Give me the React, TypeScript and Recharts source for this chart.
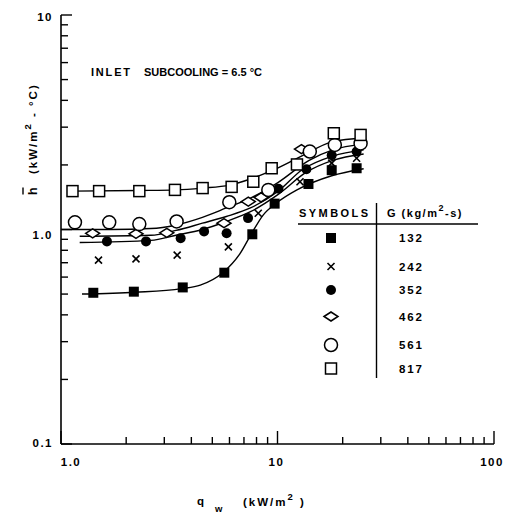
import { ComposedChart, Line, Scatter, XAxis, YAxis } from 'recharts'

const FONT = '"Liberation Sans", Arial, Helvetica, sans-serif'

// mass flux values shown in the legend (kg/m2-s)
const fluxes = ['132', '242', '352', '462', '561', '817']

// measured points: q_w (kW/m2) and mean h (kW/m2-C)
const q132 = [1.41, 2.17, 3.65, 5.68, 7.65, 9.7, 13.9, 17.8, 23.2]
const h132 = [0.507, 0.513, 0.537, 0.629, 0.95, 1.32, 1.63, 1.89, 1.93]

const q242 = [1.49, 2.22, 3.44, 5.93, 8.15, 12.7, 17.8, 23.2]
const h242 = [0.72, 0.73, 0.76, 0.83, 1.19, 1.67, 2.04, 2.15]

const q352 = [1.63, 2.47, 3.57, 4.58, 5.82, 7.31, 10.1, 13.6, 17.8, 23.2]
const h352 = [0.88, 0.88, 0.91, 0.98, 0.96, 1.13, 1.55, 1.91, 2.22, 2.31]

const q462 = [1.4, 2.22, 3.08, 5.66, 7.33, 8.4, 12.9]
const h462 = [0.96, 0.955, 0.965, 1.07, 1.35, 1.41, 2.37]

const q561 = [1.16, 1.67, 2.3, 3.42, 5.99, 9.07, 14.1, 18.4, 24.2]
const h561 = [1.08, 1.08, 1.06, 1.09, 1.34, 1.53, 2.31, 2.48, 2.52]

const q817 = [1.13, 1.5, 2.3, 3.36, 4.51, 6.14, 7.73, 9.4, 12.3, 18.2, 24.2]
const h817 = [1.51, 1.51, 1.51, 1.53, 1.56, 1.58, 1.67, 1.93, 2.01, 2.81, 2.76]

// hand-drawn fit curves
const fitQ132 = [1.25, 2.2, 3.6, 4.4, 5.6, 6.7, 7.6, 8.6, 9.9, 12.3, 17.8, 25]
const fitH132 = [0.5, 0.51, 0.53, 0.55, 0.63, 0.77, 0.96, 1.17, 1.33, 1.53, 1.78, 1.92]

const fitQ352 = [1.22, 2.6, 3.4, 4.5, 5.8, 7.5, 10, 13.6, 18, 25]
const fitH352 = [0.87, 0.89, 0.94, 1.0, 1.09, 1.21, 1.45, 1.85, 2.1, 2.25]

const fitQ462 = [1.22, 2.6, 3.4, 4.5, 5.8, 7.5, 10, 13, 18, 25]
const fitH462 = [0.93, 0.94, 0.99, 1.07, 1.15, 1.26, 1.5, 1.9, 2.2, 2.35]

const fitQ561 = [1.0, 1.7, 2.6, 3.4, 4.5, 5.8, 7.5, 10, 14, 18, 25]
const fitH561 = [1.0, 1.0, 1.01, 1.05, 1.14, 1.26, 1.4, 1.65, 2.1, 2.35, 2.5]

const fitQ817 = [1.12, 2.3, 3.4, 4.5, 6.0, 7.5, 9.4, 12.7, 18, 25]
const fitH817 = [1.51, 1.52, 1.53, 1.56, 1.61, 1.72, 1.88, 2.18, 2.57, 2.67]

const xTicks = [1, 2, 3, 4, 5, 6, 7, 8, 9, 10, 20, 30, 40, 50, 60, 70, 80, 90, 100]
const xTickLabels: Record<number, string> = { 1: '1.0', 10: '10', 100: '100' }
const yTicks = [0.1, 0.2, 0.3, 0.4, 0.5, 0.6, 0.7, 0.8, 0.9, 1, 2, 3, 4, 5, 6, 7, 8, 9, 10]
const yTickLabels: Record<number, string> = { 0.1: '0.1', 1: '1.0', 10: '10' }

const pts = (q: number[], h: number[]) => q.map((v, i) => ({ q: v, h: h[i] }))

type Mark = (cx: number, cy: number) => JSX.Element

const marks: Record<string, Mark> = {
  '132': (cx, cy) => <rect x={cx - 5} y={cy - 5} width={10} height={10} fill="#000" />,
  '242': (cx, cy) => (
    <g stroke="#000" strokeWidth={1.6}>
      <line x1={cx - 3.5} y1={cy - 3.5} x2={cx + 3.5} y2={cy + 3.5} />
      <line x1={cx - 3.5} y1={cy + 3.5} x2={cx + 3.5} y2={cy - 3.5} />
    </g>
  ),
  '352': (cx, cy) => <circle cx={cx} cy={cy} r={5} fill="#000" />,
  '462': (cx, cy) => (
    <polygon
      points={`${cx - 7},${cy} ${cx},${cy - 4.5} ${cx + 7},${cy} ${cx},${cy + 4.5}`}
      fill="#fff"
      stroke="#000"
      strokeWidth={1.5}
    />
  ),
  '561': (cx, cy) => <circle cx={cx} cy={cy} r={6.5} fill="#fff" stroke="#000" strokeWidth={1.5} />,
  '817': (cx, cy) => (
    <rect x={cx - 5.5} y={cy - 5.5} width={11} height={11} fill="#fff" stroke="#000" strokeWidth={1.5} />
  ),
}

const points: Record<string, { q: number; h: number }[]> = {
  '817': pts(q817, h817),
  '561': pts(q561, h561),
  '462': pts(q462, h462),
  '352': pts(q352, h352),
  '242': pts(q242, h242),
  '132': pts(q132, h132),
}

const fits: Record<string, { q: number; h: number }[]> = {
  '817': pts(fitQ817, fitH817),
  '561': pts(fitQ561, fitH561),
  '462': pts(fitQ462, fitH462),
  '352': pts(fitQ352, fitH352),
  '132': pts(fitQ132, fitH132),
}

const XTick = (props: any) => {
  const { x, y, payload } = props
  const label = xTickLabels[payload.value]
  const dx = payload.value === 1 ? 10 : payload.value === 100 ? -2 : -1
  return (
    <g>
      <line x1={x} x2={x} y1={y} y2={y - (label ? 13 : 7)} stroke="#000" strokeWidth={1.4} />
      {label && (
        <text x={x + dx} y={y + 22} textAnchor="middle" fontFamily={FONT} fontSize={11.5} fontWeight="bold" letterSpacing={1.5} fill="#000">
          {label}
        </text>
      )}
    </g>
  )
}

const YTick = (props: any) => {
  const { x, y, payload } = props
  const label = yTickLabels[payload.value]
  const dy = payload.value === 10 ? 6 : payload.value === 1 ? 9 : 3
  return (
    <g>
      <line x1={x} x2={x + (label ? 11 : 7)} y1={y} y2={y} stroke="#000" strokeWidth={1.4} />
      {label && (
        <text x={x - 8} y={y + dy} textAnchor="end" fontFamily={FONT} fontSize={11.5} fontWeight="bold" letterSpacing={1.5} fill="#000">
          {label}
        </text>
      )}
    </g>
  )
}

const txt = { fontFamily: FONT, fontWeight: 'bold' as const, fill: '#000' }

export default function App() {
  const legendY = [238, 266.5, 290, 316.5, 345, 368.5]
  return (
    <div style={{ position: 'absolute', left: 0, top: 0, width: 507, height: 513, background: '#fff', fontFamily: FONT }}>
      <ComposedChart width={507} height={513} margin={{ top: 15, right: 13, bottom: 0, left: 0 }}>
        <XAxis
          type="number"
          dataKey="q"
          scale="log"
          domain={[1, 100]}
          ticks={xTicks}
          interval={0}
          height={69}
          tickSize={0}
          tickMargin={0}
          tickLine={false}
          axisLine={{ stroke: '#000', strokeWidth: 1.6 }}
          tick={<XTick />}
          allowDataOverflow
        />
        <YAxis
          type="number"
          dataKey="h"
          scale="log"
          domain={[0.1, 10]}
          ticks={yTicks}
          interval={0}
          width={61}
          tickSize={0}
          tickMargin={0}
          tickLine={false}
          axisLine={{ stroke: '#000', strokeWidth: 1.6 }}
          tick={<YTick />}
          allowDataOverflow
        />
        {Object.keys(fits).map((g) => (
          <Line
            key={`fit-${g}`}
            data={fits[g]}
            dataKey="h"
            type="monotone"
            stroke="#000"
            strokeWidth={1.4}
            dot={false}
            activeDot={false}
            isAnimationActive={false}
          />
        ))}
        {Object.keys(points).map((g) => (
          <Scatter
            key={`pts-${g}`}
            data={points[g]}
            dataKey="h"
            shape={(p: any) => marks[g](p.cx, p.cy)}
            isAnimationActive={false}
          />
        ))}
      </ComposedChart>
      <svg width={507} height={513} style={{ position: 'absolute', left: 0, top: 0, pointerEvents: 'none' }}>
        <text x={91} y={76} fontSize={11} textLength={39} lengthAdjust="spacing" {...txt}>INLET</text>
        <text x={144} y={76} fontSize={11} textLength={118} lengthAdjust="spacing" {...txt}>SUBCOOLING = 6.5 °C</text>

        <g transform="translate(37,195) rotate(-90)">
          <text x={0} y={0} fontSize={12.5} {...txt}>h</text>
          <line x1={0.5} x2={7.5} y1={-14} y2={-14} stroke="#000" strokeWidth={1.4} />
          <text x={21} y={0} fontSize={11.5} letterSpacing={2} {...txt}>
            <tspan>(kW/m</tspan>
            <tspan dy={-6} fontSize={9.5}>2</tspan>
            <tspan dy={6}> - °C)</tspan>
          </text>
        </g>

        <text x={197} y={505} fontSize={11.5} {...txt}>q</text>
        <text x={215} y={512} fontSize={9.5} {...txt}>w</text>
        <text x={243} y={506} fontSize={11.5} letterSpacing={2} {...txt}>
          <tspan>(kW/m</tspan>
          <tspan dy={-6} fontSize={9.5}>2</tspan>
          <tspan dy={6}> )</tspan>
        </text>

        <text x={299} y={217} fontSize={11} textLength={69} lengthAdjust="spacing" {...txt}>SYMBOLS</text>
        <text x={387} y={217} fontSize={11} letterSpacing={1.5} {...txt}>
          <tspan>G  (kg/m</tspan>
          <tspan dy={-6} fontSize={9}>2</tspan>
          <tspan dy={6}>-s)</tspan>
        </text>
        <line x1={298} x2={478} y1={224} y2={224} stroke="#000" strokeWidth={1.4} />
        <line x1={376.5} x2={376.5} y1={203} y2={378} stroke="#000" strokeWidth={1.4} />
        {fluxes.map((g, i) => (
          <g key={g}>
            {marks[g](331, legendY[i])}
            <text x={399} y={legendY[i] + 4} fontSize={11.5} letterSpacing={1.8} {...txt}>{g}</text>
          </g>
        ))}
      </svg>
    </div>
  )
}
